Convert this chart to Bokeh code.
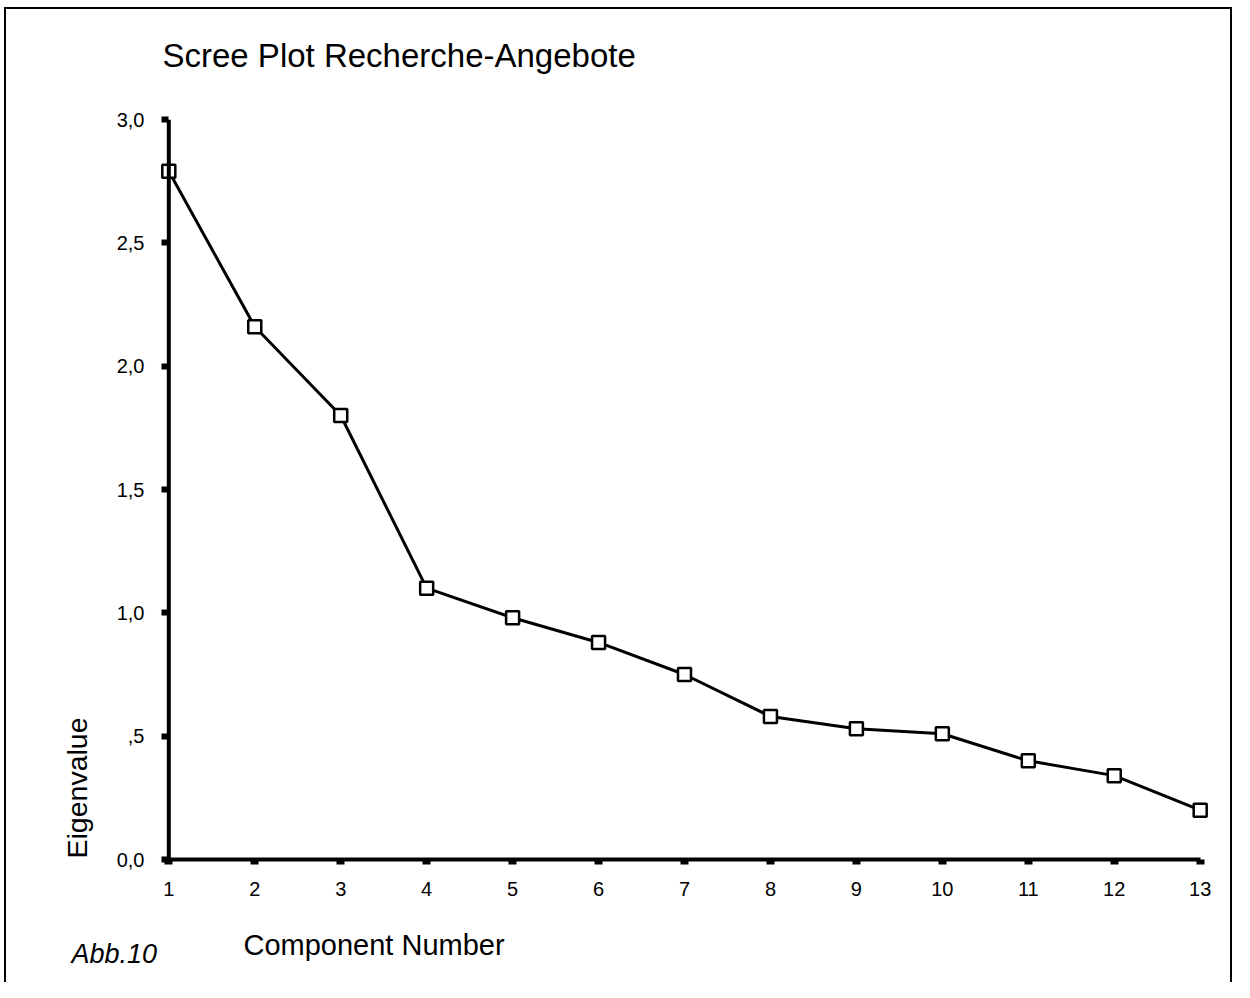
import numpy as np
from bokeh.plotting import figure
from bokeh.models import Range1d, FixedTicker, Span, Label
from bokeh.embed import file_html
from bokeh.resources import INLINE

# ---- data ----
components = list(range(1, 14))
eigenvalues = [2.79, 2.16, 1.80, 1.10, 0.98, 0.88, 0.75, 0.58, 0.53, 0.51, 0.40, 0.34, 0.20]
x_ticks = list(range(1, 14))
y_ticks = [0.0, 0.5, 1.0, 1.5, 2.0, 2.5, 3.0]
y_tick_labels = ["0,0", ",5", "1,0", "1,5", "2,0", "2,5", "3,0"]
title_text = "Scree Plot Recherche-Angebote"
x_label = "Component Number"
y_label = "Eigenvalue"
fig_note = "Abb.10"

FONT = "Liberation Sans"

# ---- layout (figure pixel coordinates) ----
X0, X1 = 0.88, 13.12
Y0, Y1 = 0.0, 3.0
FW, FH = 1052, 740
ML, MT, MR, MB = 158, 119, 24, 123


def dx(px):
    """figure pixel x -> data x"""
    return X0 + (px - ML) * (X1 - X0) / FW


def dy(py):
    """figure pixel y -> data y"""
    return Y1 - (py - MT) * (Y1 - Y0) / FH


p = figure(frame_width=FW, frame_height=FH,
           x_range=Range1d(X0, X1), y_range=Range1d(Y0, Y1),
           min_border_left=ML, min_border_top=MT, min_border_right=MR, min_border_bottom=MB,
           output_backend="svg", toolbar_location=None,
           background_fill_color="white", border_fill_color=None,
           outline_line_color=None,
           styles={"box-shadow": "inset 4px 7px 0 0 white, inset -2px 0 0 0 white, "
                                 "inset 6px 9px 0 0 black, inset -4px 0 0 0 black",
                   "background-color": "white"})

p.grid.visible = False

# x axis
xa = p.xaxis[0]
xa.ticker = FixedTicker(ticks=x_ticks)
xa.bounds = (1, 13)
xa.axis_line_width = 4
xa.axis_line_color = "black"
xa.major_tick_line_width = 8
xa.major_tick_line_color = "black"
xa.major_tick_in = 0
xa.major_tick_out = 5
xa.minor_tick_line_color = None
xa.major_label_text_font = FONT
xa.major_label_text_font_size = "20px"
xa.major_label_text_color = "black"
xa.major_label_standoff = 17

# y axis
ya = p.yaxis[0]
ya.ticker = FixedTicker(ticks=y_ticks)
ya.major_label_overrides = {t: s for t, s in zip(y_ticks, y_tick_labels)}
ya.axis_line_color = None
ya.major_tick_line_width = 6
ya.major_tick_line_color = "black"
ya.major_tick_in = 10
ya.major_tick_out = -3
ya.minor_tick_line_color = None
ya.major_label_text_font = FONT
ya.major_label_text_font_size = "20px"
ya.major_label_text_color = "black"
ya.major_label_standoff = 14

# y axis line drawn at x = 1
p.add_layout(Span(location=1, dimension="height", line_color="black", line_width=4))

# data
p.line(components, eigenvalues, line_color="black", line_width=3)
p.scatter(components, eigenvalues, marker="square", size=13, line_width=2.5,
          line_color="black", fill_color="white")

# texts (placed in side panels so they are not clipped by the frame)
p.add_layout(Label(x=dx(162), y=dy(55), text=title_text, text_font=FONT,
                   text_font_size="33px", text_color="black",
                   text_align="left", text_baseline="alphabetic"), "above")
p.add_layout(Label(x=dx(243), y=dy(944), text=x_label, text_font=FONT,
                   text_font_size="29px", text_color="black",
                   text_align="left", text_baseline="alphabetic"), "below")
p.add_layout(Label(x=dx(71), y=dy(953), text=fig_note, text_font=FONT,
                   text_font_size="27px", text_font_style="italic", text_color="black",
                   text_align="left", text_baseline="alphabetic"), "below")
p.add_layout(Label(x=dx(76), y=dy(858), text=y_label, text_font=FONT,
                   text_font_size="28.5px", text_color="black", angle=np.pi / 2,
                   text_align="left", text_baseline="alphabetic"), "left")

open("out.html", "w").write(file_html(p, INLINE))
